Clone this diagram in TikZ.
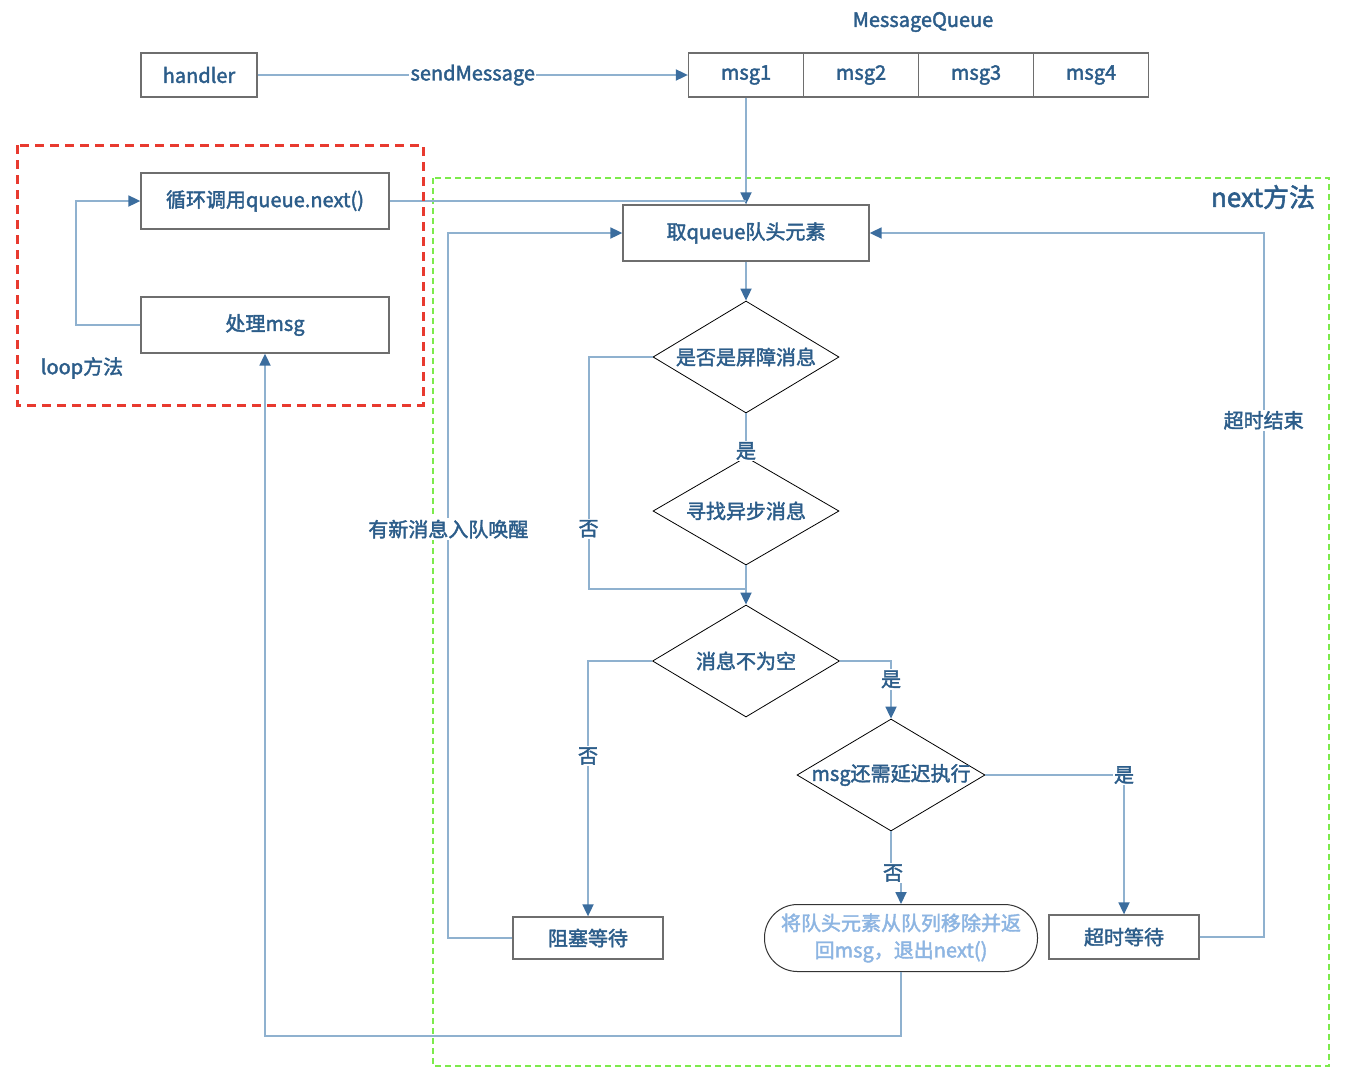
\documentclass[tikz,border=0pt]{standalone}
\usepackage{fontspec}
\setmainfont{Noto Sans CJK SC}[FakeBold=2]
\usetikzlibrary{arrows.meta,shapes.geometric}
\definecolor{txtc}{HTML}{2C5D8A}
\definecolor{linec}{HTML}{8FB1CF}
\definecolor{arrc}{HTML}{3B6D9E}
\definecolor{boxc}{HTML}{6E6E6E}
\definecolor{lightc}{HTML}{8DB5E2}
\definecolor{redc}{HTML}{E83A2F}
\definecolor{greenc}{HTML}{7CEB4C}
\begin{document}
\begin{tikzpicture}[x=1pt,y=-1pt,
  font=\fontsize{20}{24}\selectfont,
  box/.style={draw=boxc,line width=1.3pt,fill=white,minimum height=44,inner sep=0,text=txtc},
  dia/.style={diamond,draw=black,line width=0.8pt,fill=white,inner sep=0},
  dtxt/.style={text=txtc,inner sep=0},
  conn/.style={draw=linec,line width=1.8pt},
  arr/.style={conn,-{Triangle[length=12pt,width=11pt,color=arrc]}},
  lab/.style={fill=white,inner sep=1.5pt,text=txtc}]
\useasboundingbox (0,0) rectangle (1356,1090);

% frames
\draw[greenc, dash pattern=on 6pt off 4pt, line width=2pt] (433,178) rectangle (1329,1066);

% nodes
\node[box,minimum width=116] (handler) at (199,75) {handler};
\node[box,minimum width=115] (m1) at (746,75) {msg1};
\node[box,minimum width=115] (m2) at (861,75) {msg2};
\node[box,minimum width=115] (m3) at (976,75) {msg3};
\node[box,minimum width=115] (m4) at (1091,75) {msg4};
\node[text=txtc] (mq) at (923,22) {MessageQueue};

\node[box,minimum width=248,minimum height=56] (lq) at (265,201) {循环调用queue.next()};
\node[box,minimum width=248,minimum height=56] (proc) at (265,325) {处理msg};
\node[text=txtc] (looplab) at (82,368) {loop方法};
\node[text=txtc,font=\fontsize{26}{30}\selectfont] (nextlab) at (1263,197) {next方法};

\node[box,minimum width=246,minimum height=56] (q) at (746,233) {取queue队头元素};

\node[dia,minimum width=186,minimum height=112] (d1) at (746,357) {};
\node[dtxt] (t1) at (d1) {是否是屏障消息};
\node[dia,minimum width=186,minimum height=108] (d2) at (746,511) {};
\node[dtxt] (t2) at (d2) {寻找异步消息};
\node[dia,minimum width=187,minimum height=112] (d3) at (746,661) {};
\node[dtxt] (t3) at (d3) {消息不为空};
\node[dia,minimum width=188,minimum height=112] (d4) at (891,775) {};
\node[dtxt] (t4) at (d4) {msg还需延迟执行};

\node[box,minimum width=150,minimum height=42] (block) at (588,938) {阻塞等待};
\node[box,minimum width=150,minimum height=44] (tw) at (1124,937) {超时等待};
\node[draw=black!80,line width=1pt,fill=white,rounded corners=33,minimum width=273,minimum height=67,
  inner sep=0,align=center,text=lightc,font=\fontsize{20}{27}\selectfont] (ret) at (901,938)
  {将队头元素从队列移除并返\\回msg，退出next()};

% connectors
\coordinate (j1) at (746,201);
\coordinate (j2) at (746,589);
\draw[arr] (handler.east) -- node[lab,pos=0.5] (sm) {sendMessage} (m1.west);
\draw[arr] (m1.south) -- (q.north);
\draw[conn] (lq.east) -- (j1);
\draw[arr] (proc.west) -- ++(-64,0) |- (lq.west);
\draw[arr] (q.south) -- (d1.north);
\draw[conn] (d1.south) -- node[lab,pos=0.87] (l1) {是} (d2.north);
\draw[conn] (d1.west) -- ++(-64,0) |- node[lab,pos=0.37] (l2) {否} (j2);
\draw[arr] (d2.south) -- (d3.north);
\draw[arr] (d3.east) -| node[lab,pos=0.66] (l3) {是} (d4.north);
\draw[arr] (d3.west) -| node[lab,pos=0.686] (l4) {否} (block.north);
\draw[arr] (d4.east) -| node[lab,pos=0.5] (l5) {是} (tw.north);
\draw[arr] (d4.south) -- (891,873) -- (901,873) -- (ret.north);
\node[lab] (l6) at (893,873) {否};
\draw[arr] (block.west) -- ++(-64,0) |- node[lab,pos=0.29] (l7) {有新消息入队唤醒} (q.west);
\draw[arr] (tw.east) -- ++(64,0) |- node[lab,pos=0.367] (l8) {超时结束} (q.east);
\draw[arr] (ret.south) -- ++(0,64) -| (proc.south);

\draw[redc, dash pattern=on 9pt off 6pt, line width=3pt] (17,145) rectangle (423,405);
\end{tikzpicture}
\end{document}
